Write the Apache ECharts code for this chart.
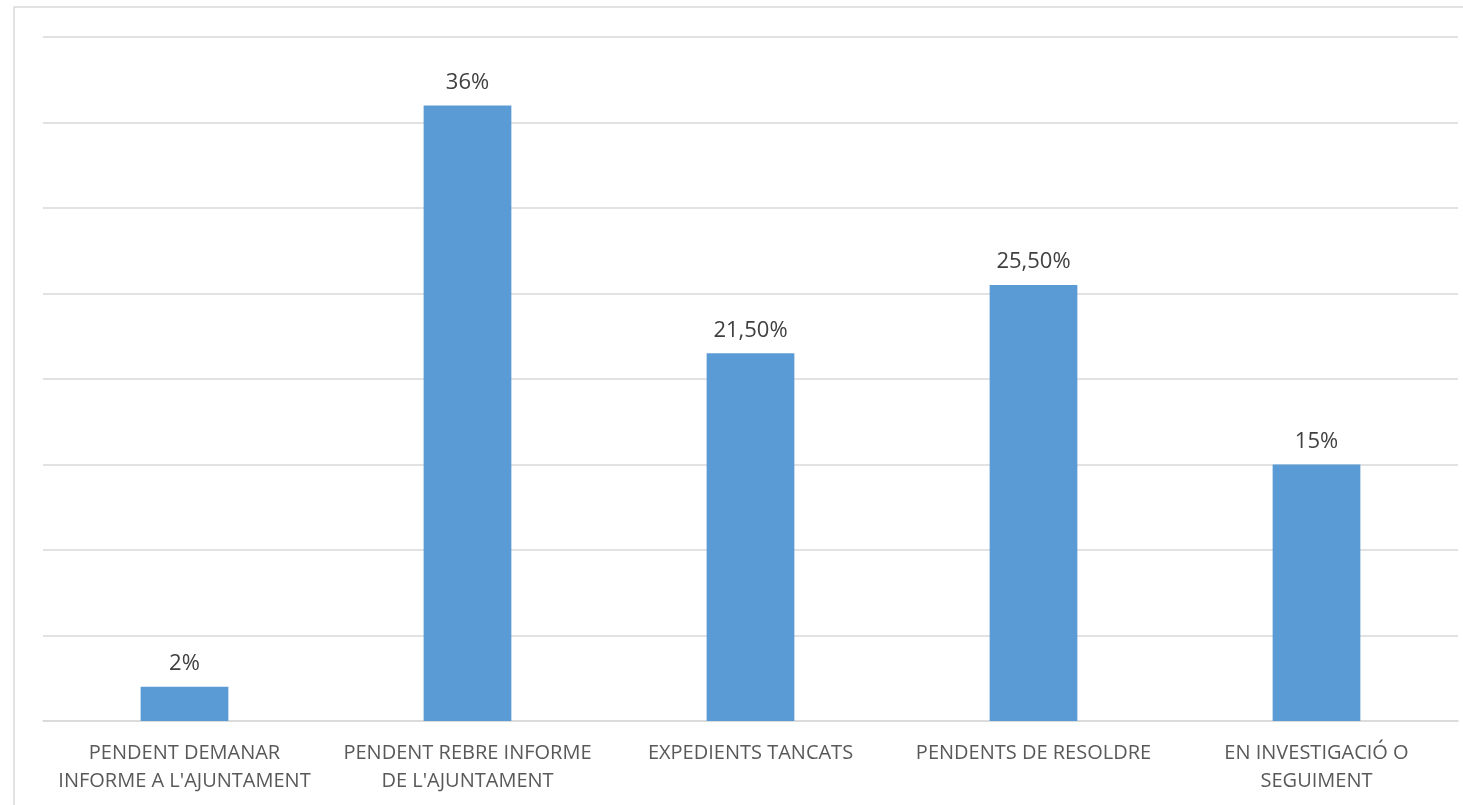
<!DOCTYPE html>
<html>
<head>
<meta charset="utf-8">
<script src="https://cdn.jsdelivr.net/npm/echarts@6/dist/echarts.min.js"></script>
<style>
html,body{margin:0;padding:0;background:#fff;}
#chart{width:1463px;height:805px;}
</style>
</head>
<body>
<div id="chart"></div>
<script>
const categories = [
  "PENDENT DEMANAR\nINFORME A L'AJUNTAMENT",
  "PENDENT REBRE INFORME\nDE L'AJUNTAMENT",
  "EXPEDIENTS TANCATS",
  "PENDENTS DE RESOLDRE",
  "EN INVESTIGACIÓ O\nSEGUIMENT"
];
const values = [2, 36, 21.5, 25.5, 15];
const valueLabels = ["2%", "36%", "21,50%", "25,50%", "15%"];

const chart = echarts.init(document.getElementById('chart'));
chart.setOption({
  animation: false,
  graphic: [{
    type: 'rect', silent: true, z: -1,
    shape: {x: 14, y: 7, width: 1470, height: 820},
    style: {fill: 'none', stroke: '#d9d9d9', lineWidth: 1.5}
  }],
  grid: {left: 43, right: 5, top: 37, bottom: 84, containLabel: false},
  xAxis: {
    type: 'category',
    data: categories,
    axisLine: {show: true, lineStyle: {color: '#d9d9d9', width: 1.5}},
    axisTick: {show: false},
    axisLabel: {
      color: '#595959', fontSize: 20, lineHeight: 28, margin: 18,
      fontFamily: 'Open Sans, Liberation Sans, sans-serif', interval: 0
    }
  },
  yAxis: {
    type: 'value', min: 0, max: 40, interval: 5,
    axisLabel: {show: false},
    axisLine: {show: false}, axisTick: {show: false},
    splitLine: {lineStyle: {color: '#d9d9d9', width: 1.5}}
  },
  series: [{
    type: 'bar',
    data: values,
    barWidth: '31%',
    itemStyle: {color: '#5b9bd5'},
    label: {
      show: true, position: 'top', distance: 12,
      color: '#404040', fontSize: 22,
      fontFamily: 'Open Sans, Liberation Sans, sans-serif',
      formatter: p => valueLabels[p.dataIndex]
    }
  }]
});
</script>
</body>
</html>
